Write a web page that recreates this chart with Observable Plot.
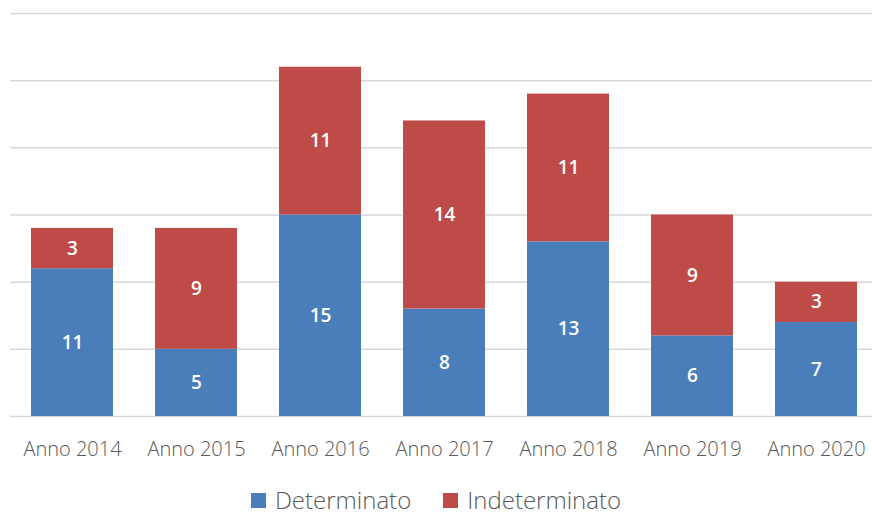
<!DOCTYPE html>
<html>
<head>
<meta charset="utf-8">
<script src="https://cdn.jsdelivr.net/npm/d3@7"></script>
<script src="https://cdn.jsdelivr.net/npm/@observablehq/plot@0.6"></script>
<style>
  html, body { margin: 0; padding: 0; background: #fff; }
  #chart { width: 872px; height: 517px; position: relative; font-family: "Open Sans", sans-serif; overflow: hidden; }
  .legend { position: absolute; left: 0; width: 872px; top: 486px; display: flex; justify-content: center; gap: 32px; font-size: 24px; line-height: 28px; color: #595959; font-weight: 300; }
  .legend span.item { display: flex; align-items: center; }
  .legend span.sw { display: inline-block; width: 15px; height: 15px; margin-right: 9px; }
</style>
</head>
<body>
<div id="chart"></div>
<script>
const categories = ["Anno 2014", "Anno 2015", "Anno 2016", "Anno 2017", "Anno 2018", "Anno 2019", "Anno 2020"];
const seriesNames = ["Determinato", "Indeterminato"];
const determinato = [11, 5, 15, 8, 13, 6, 7];
const indeterminato = [3, 9, 11, 14, 11, 9, 3];
const colors = ["#4a7ebb", "#be4b48"];
const yTicks = [0, 5, 10, 15, 20, 25, 30];

const data = [];
categories.forEach((c, i) => {
  data.push({cat: c, series: seriesNames[0], value: determinato[i]});
  data.push({cat: c, series: seriesNames[1], value: indeterminato[i]});
});

const W = 872, H = 462;
const plot = Plot.plot({
  width: W,
  height: H,
  marginLeft: 10,
  marginRight: 0,
  marginTop: 13,
  marginBottom: 46,
  style: {fontFamily: "'Open Sans', sans-serif", background: "transparent"},
  x: {domain: categories, range: [9.4, 878.6], paddingInner: 0.34, paddingOuter: 0.17, label: null},
  y: {domain: [0, 30], label: null, axis: null},
  color: {domain: seriesNames, range: colors},
  marks: [
    Plot.ruleY(yTicks, {stroke: "#d9d9d9", strokeWidth: 1.5}),
    Plot.barY(data, Plot.stackY({x: "cat", y: "value", fill: "series", order: seriesNames})),
    Plot.text(data, Plot.stackY({x: "cat", y: "value", z: "series", order: seriesNames, text: d => String(d.value), fill: "white", fontSize: 19, fontWeight: 600})),
    Plot.axisX({tickSize: 0, tickPadding: 25, fontSize: 20, fill: "#595959", fontWeight: 300, label: null})
  ]
});
document.getElementById("chart").appendChild(plot);

const legend = document.createElement("div");
legend.className = "legend";
seriesNames.forEach((s, i) => {
  const item = document.createElement("span");
  item.className = "item";
  const sw = document.createElement("span");
  sw.className = "sw";
  sw.style.background = colors[i];
  item.appendChild(sw);
  item.appendChild(document.createTextNode(s));
  legend.appendChild(item);
});
document.getElementById("chart").appendChild(legend);
</script>
</body>
</html>
